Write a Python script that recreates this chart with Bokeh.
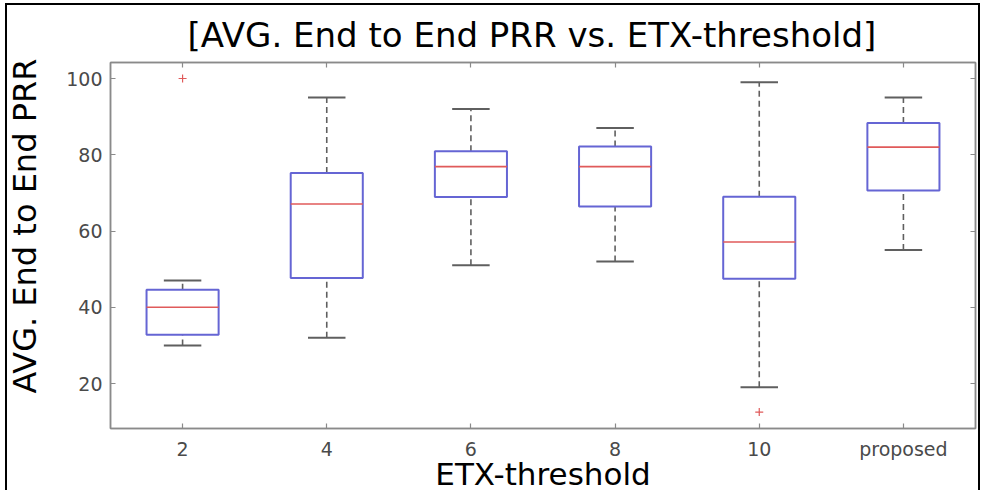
import numpy as np
from bokeh.plotting import figure
from bokeh.models import Range1d, FixedTicker, LinearAxis, Title
from bokeh.embed import file_html
from bokeh.resources import INLINE

# ---- data ----
categories = ["2", "4", "6", "8", "10", "proposed"]
upper_whisker = [47.0, 95.0, 92.0, 87.0, 99.0, 95.0]
q3 = [44.6, 75.2, 80.9, 82.2, 69.0, 88.3]
median = [40.0, 67.1, 76.9, 76.9, 57.1, 82.0]
q1 = [32.8, 47.7, 68.9, 66.4, 47.5, 70.6]
lower_whisker = [30.0, 32.0, 51.0, 52.0, 19.0, 55.0]
outlier_cat = ["2", "10"]
outlier_val = [100.0, 12.5]
y_ticks = [20, 40, 60, 80, 100]

# ---- styles ----
BOX_W = 0.5
CAP_W = 0.26
BLUE = "#6565d4"
RED = "#e05a5a"
WHISK = "#5f5f5f"
AXIS = "#8a8a8a"
TICK_TXT = "#4a4a4a"
FONT = "DejaVu Sans"

xs = np.arange(1, len(categories) + 1)
pos = {c: i + 1 for i, c in enumerate(categories)}
ox = [pos[c] for c in outlier_cat]

p = figure(width=975, height=487,
           x_range=Range1d(0.5, len(categories) + 0.5),
           y_range=Range1d(8.2, 104.2),
           output_backend="svg", toolbar_location=None,
           min_border_left=103, min_border_right=7,
           min_border_top=57, min_border_bottom=64,
           background_fill_color="white", border_fill_color="white",
           styles={"margin-left": "5px", "margin-top": "3px",
                   "border-left": "2px solid black",
                   "border-top": "2px solid black",
                   "border-right": "2px solid black"})
p.grid.visible = False
p.outline_line_color = AXIS
p.outline_line_width = 1.5

# whiskers (dashed)
p.segment(x0=xs, x1=xs, y0=q3, y1=upper_whisker, line_color=WHISK,
          line_width=1.6, line_dash="6 4")
p.segment(x0=xs, x1=xs, y0=lower_whisker, y1=q1, line_color=WHISK,
          line_width=1.6, line_dash="6 4")
# caps
p.segment(x0=xs - CAP_W / 2, x1=xs + CAP_W / 2, y0=upper_whisker, y1=upper_whisker,
          line_color=WHISK, line_width=2)
p.segment(x0=xs - CAP_W / 2, x1=xs + CAP_W / 2, y0=lower_whisker, y1=lower_whisker,
          line_color=WHISK, line_width=2)
# boxes
p.vbar(x=xs, width=BOX_W, bottom=q1, top=q3, fill_color="white",
       line_color=BLUE, line_width=2)
# medians
p.segment(x0=xs - BOX_W / 2, x1=xs + BOX_W / 2, y0=median, y1=median,
          line_color=RED, line_width=1.6)
# outliers
p.scatter(x=ox, y=outlier_val, marker="cross", size=8, line_color=RED, line_width=1.2)

# axes
for ax in (p.xaxis[0], p.yaxis[0]):
    ax.axis_line_color = AXIS
    ax.axis_line_width = 1.5
    ax.major_tick_line_color = AXIS
    ax.major_tick_line_width = 1.2
    ax.major_tick_in = 5
    ax.major_tick_out = 0
    ax.minor_tick_in = 0
    ax.minor_tick_out = 0
    ax.major_label_text_font = FONT
    ax.major_label_text_font_size = "19px"
    ax.major_label_text_color = TICK_TXT

p.xaxis[0].ticker = FixedTicker(ticks=[int(x) for x in xs])
p.xaxis[0].major_label_overrides = {int(i + 1): c for i, c in enumerate(categories)}
p.xaxis[0].major_label_standoff = 9

p.yaxis[0].ticker = FixedTicker(ticks=y_ticks)
p.yaxis[0].major_label_standoff = 8
# invisible spacer so that the vertical title sits at the picture's left edge
p.yaxis[0].axis_label = " "
p.yaxis[0].axis_label_text_font_size = "1px"
p.yaxis[0].axis_label_text_color = None
p.yaxis[0].axis_label_standoff = 16

# mirrored axes (ticks only, no labels) on top and right
def tick_only_axis(ticks):
    return LinearAxis(ticker=FixedTicker(ticks=ticks),
                      major_label_text_font_size="0px", major_label_text_color=None,
                      major_label_standoff=0,
                      major_tick_in=5, major_tick_out=0, minor_tick_in=0, minor_tick_out=0,
                      axis_line_color=AXIS, axis_line_width=1.5,
                      major_tick_line_color=AXIS, major_tick_line_width=1.2)

p.add_layout(tick_only_axis([int(x) for x in xs]), "above")
p.add_layout(tick_only_axis(y_ticks), "right")

# chart title
p.title.text = "[AVG. End to End PRR vs. ETX-threshold]"
p.title.align = "left"
p.title.offset = 77
p.title.vertical_align = "top"
p.title.text_font = FONT
p.title.text_font_size = "34px"
p.title.text_font_style = "normal"
p.title.text_color = "black"
p.title.standoff = 11

# y axis title (vertical, left panel)
p.add_layout(Title(text="AVG. End to End PRR", align="left", offset=35,
                   vertical_align="top",
                   text_font=FONT, text_font_size="32px", text_font_style="normal",
                   text_color="black", standoff=-4), "left")

# x axis title (below panel)
p.add_layout(Title(text="ETX-threshold", align="center", vertical_align="bottom",
                   text_font=FONT, text_font_size="31px", text_font_style="normal",
                   text_color="black", standoff=-18), "below")

open("out.html", "w").write(file_html(p, INLINE))
